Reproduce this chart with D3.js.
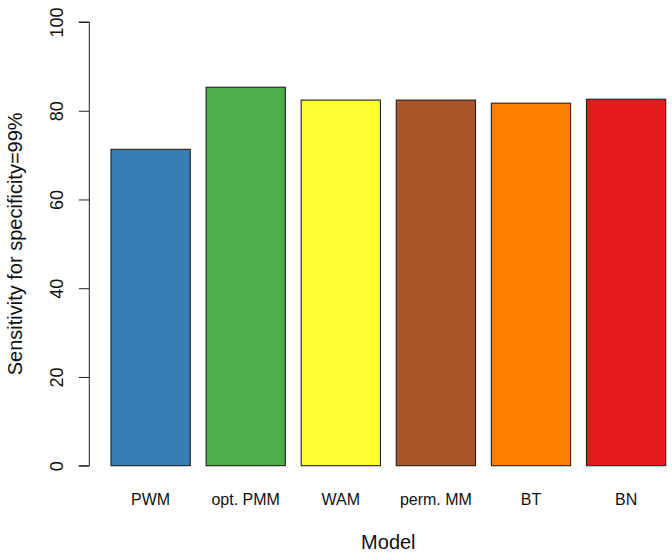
<!DOCTYPE html>
<html>
<head>
<meta charset="utf-8">
<script src="https://cdn.jsdelivr.net/npm/d3@7"></script>
<style>
  html, body { margin: 0; padding: 0; background: #fff; }
  svg { display: block; font-family: "Liberation Sans", Arial, Helvetica, sans-serif; }
</style>
</head>
<body>
<svg id="chart" width="672" height="554"></svg>
<script>
const categories = ["PWM", "opt. PMM", "WAM", "perm. MM", "BT", "BN"];
const values = [71.3, 85.3, 82.4, 82.4, 81.7, 82.6];
const colors = ["#377EB8", "#4DAF4A", "#FFFF33", "#A65628", "#FF7F00", "#E41A1C"];
const yTicks = [0, 20, 40, 60, 80, 100];
const xTitle = "Model";
const yTitle = "Sensitivity for specificity=99%";

const svg = d3.select("#chart");
const plot = { left: 88.8, right: 687.9, top: 22, bottom: 465.7 };

// R barplot layout: bar width 1, space 0.2, xlim extended 4%
const n = categories.length;
const xLin = d3.scaleLinear()
  .domain([0.2 - 0.04 * (1.2 * n - 0.2), 1.2 * n + 0.04 * (1.2 * n - 0.2)])
  .range([plot.left, plot.right]);
const barLeft = i => 0.2 + 1.2 * i;

const y = d3.scaleLinear().domain([0, 100]).range([plot.bottom, plot.top]);

// bars
svg.append("g").selectAll("rect")
  .data(values)
  .join("rect")
  .attr("x", (d, i) => xLin(barLeft(i)))
  .attr("width", (d, i) => xLin(barLeft(i) + 1) - xLin(barLeft(i)))
  .attr("y", d => y(d))
  .attr("height", d => y(0) - y(d))
  .attr("fill", (d, i) => colors[i])
  .attr("stroke", "#222")
  .attr("stroke-width", 1.1);

// y axis
const yAxis = d3.axisLeft(y).tickValues(yTicks).tickSize(10.5).tickPadding(0).tickFormat(d3.format("d"));
const gy = svg.append("g").attr("transform", `translate(${plot.left + 0.5},0)`).call(yAxis);
gy.select(".domain").attr("stroke", "#222").attr("stroke-width", 1).attr("d", `M-10.5,${y(100)}H0V${y(0)}H-10.5`).attr("fill", "none");
gy.selectAll(".tick line").attr("stroke", "#222");
gy.selectAll(".tick text")
  .attr("x", 0).attr("dy", null)
  .attr("transform", "translate(-26,0) rotate(-90)")
  .attr("text-anchor", "middle")
  .attr("font-size", 18)
  .attr("fill", "#111")
  .attr("font-family", "Liberation Sans, Arial, sans-serif");

// category labels
svg.append("g").selectAll("text")
  .data(categories)
  .join("text")
  .attr("x", (d, i) => xLin(barLeft(i) + 0.5))
  .attr("y", 505)
  .attr("text-anchor", "middle")
  .attr("font-size", 16)
  .attr("fill", "#111")
  .text(d => d);

// axis titles
svg.append("text")
  .attr("x", (plot.left + plot.right) / 2)
  .attr("y", 548.5)
  .attr("text-anchor", "middle")
  .attr("font-size", 20)
  .attr("fill", "#111")
  .text(xTitle);

svg.append("text")
  .attr("transform", `translate(21.5,${(plot.top + plot.bottom) / 2}) rotate(-90)`)
  .attr("text-anchor", "middle")
  .attr("font-size", 20)
  .attr("fill", "#111")
  .text(yTitle);
</script>
</body>
</html>
